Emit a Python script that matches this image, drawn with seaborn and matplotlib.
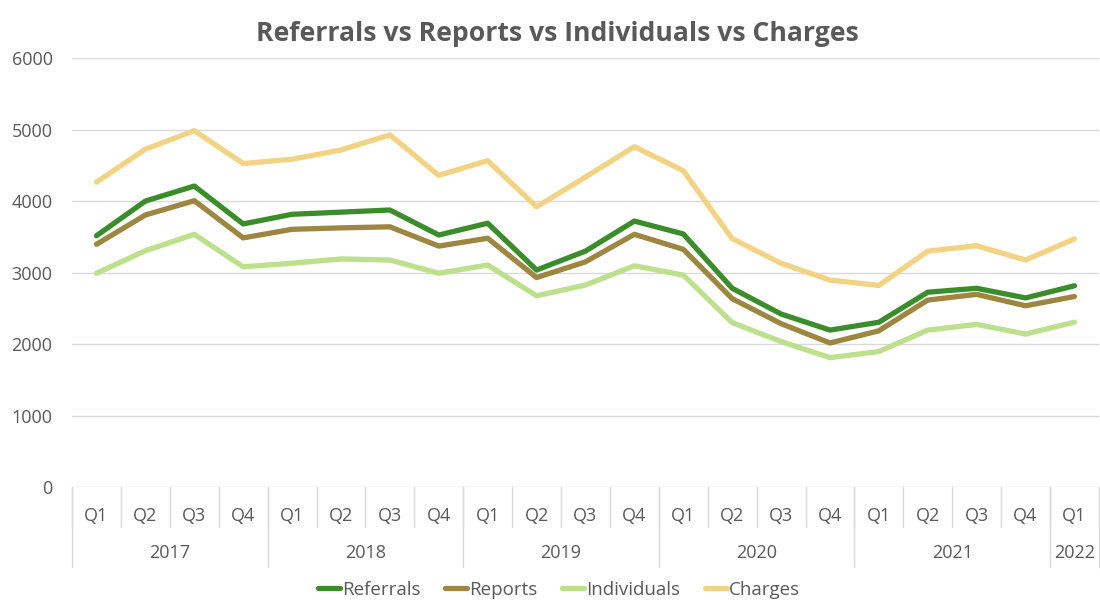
import numpy as np
import pandas as pd
import matplotlib
matplotlib.use("Agg")
import matplotlib.pyplot as plt
import matplotlib.transforms as mtransforms
import seaborn as sns

# quarters and years on the category axis
quarters = ["Q1", "Q2", "Q3", "Q4"] * 5 + ["Q1"]
years = ["2017", "2018", "2019", "2020", "2021", "2022"]
year_counts = [4, 4, 4, 4, 4, 1]

# series values
referrals = [3515, 4000, 4210, 3680, 3815, 3845, 3875, 3525, 3690, 3035, 3300,
             3720, 3540, 2780, 2420, 2195, 2305, 2725, 2780, 2645, 2815]
reports = [3395, 3805, 4005, 3485, 3605, 3625, 3640, 3370, 3480, 2930, 3150,
           3535, 3325, 2635, 2285, 2015, 2185, 2615, 2695, 2535, 2665]
individuals = [2990, 3305, 3535, 3080, 3130, 3190, 3175, 2990, 3105, 2675, 2825,
               3095, 2965, 2300, 2035, 1810, 1895, 2195, 2275, 2140, 2305]
charges = [4265, 4725, 4985, 4525, 4585, 4715, 4925, 4360, 4565, 3920, 4335,
           4760, 4425, 3475, 3130, 2895, 2820, 3300, 3375, 3175, 3470]

series_names = ["Referrals", "Reports", "Individuals", "Charges"]
colors = ["#3b8c2a", "#9c8640", "#bce08c", "#f2d383"]

frames = []
for name, vals in zip(series_names, [referrals, reports, individuals, charges]):
    frames.append(pd.DataFrame({"idx": np.arange(len(vals)), "value": vals, "series": name}))
df = pd.concat(frames, ignore_index=True)

sns.set_style("white")
plt.rcParams["font.family"] = ["Open Sans", "DejaVu Sans"]
text_color = "#595959"
grid_color = "#d9d9d9"

fig = plt.figure(figsize=(11, 6.05), dpi=100)
ax = fig.add_axes([0.0655, 0.195, 0.9335, 0.709])

sns.lineplot(data=df, x="idx", y="value", hue="series", hue_order=series_names,
             palette=colors, linewidth=3.8, ax=ax, legend=False)

ax.set_xlim(-0.5, len(quarters) - 0.5)
ax.set_ylim(0, 6000)
ax.set_yticks(range(0, 6001, 1000))
ax.yaxis.grid(True, color=grid_color, linewidth=1)
ax.set_axisbelow(True)
for sp in ax.spines.values():
    sp.set_visible(False)
ax.tick_params(axis="y", length=0, labelsize=13, colors=text_color, pad=14)
ax.set_xticks([])
ax.set_xlabel("")
ax.set_ylabel("")

# multi-level category axis
trans = mtransforms.blended_transform_factory(ax.transData, ax.transAxes)
for i, q in enumerate(quarters):
    ax.text(i, -0.068, q, transform=trans, ha="center", va="center",
            fontsize=13, color=text_color)
for i in range(len(quarters) + 1):
    ax.plot([i - 0.5, i - 0.5], [0, -0.093], transform=trans, color=grid_color,
            linewidth=1, clip_on=False)
start = 0
for y, n in zip(years, year_counts):
    ax.text(start + (n - 1) / 2, -0.153, y, transform=trans, ha="center", va="center",
            fontsize=13, color=text_color)
    ax.plot([start - 0.5, start - 0.5], [0, -0.186], transform=trans, color=grid_color,
            linewidth=1, clip_on=False)
    start += n
ax.plot([start - 0.5, start - 0.5], [0, -0.186], transform=trans, color=grid_color,
        linewidth=1, clip_on=False)

handles = [plt.Line2D([], [], color=c, linewidth=3.8) for c in colors]
fig.legend(handles, series_names, loc="center", bbox_to_anchor=(0.508, 0.025), ncol=4,
           frameon=False, fontsize=13.5, labelcolor=text_color, handlelength=1.2,
           handletextpad=0.1, columnspacing=1.3)

fig.suptitle("Referrals vs Reports vs Individuals vs Charges", x=0.507, y=0.965,
             fontsize=19.1, fontweight="bold", color=text_color)

fig.savefig("out.png", dpi=100)
